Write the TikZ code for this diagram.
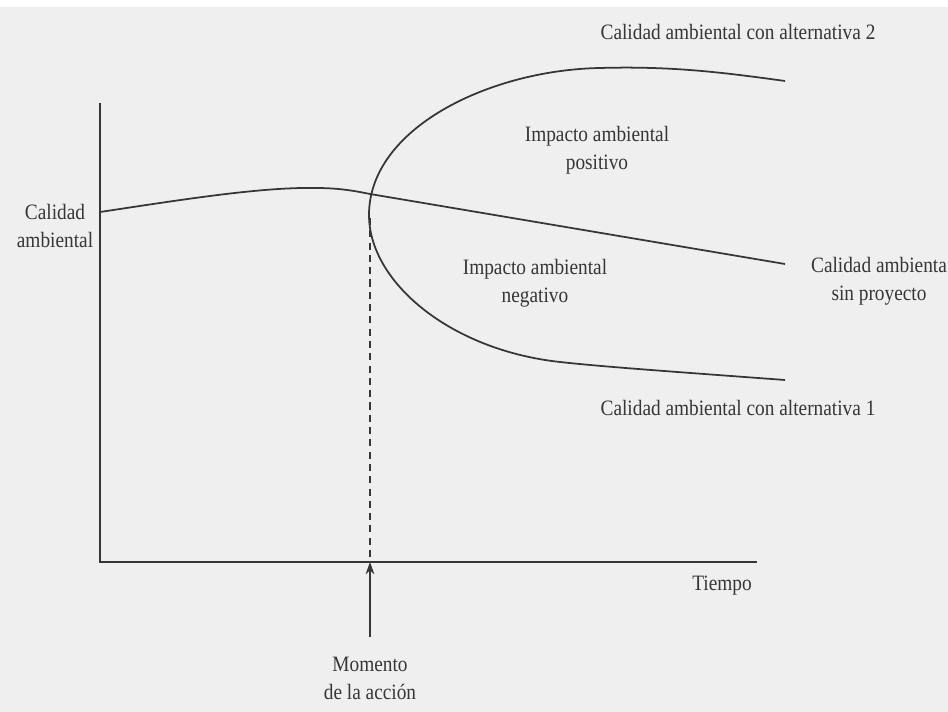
\documentclass[tikz,border=0pt]{standalone}
\usepackage{fontspec}
\setmainfont{Liberation Serif}[FakeStretch=0.88]
\usepackage{xcolor}
\usetikzlibrary{arrows.meta}
\definecolor{xink}{HTML}{363636}
\definecolor{xpaper}{HTML}{EFEFEF}

\begin{document}
\begin{tikzpicture}[
    x=0.02cm, y=-0.02cm,
    >={Stealth[length=7pt,width=5pt]},
    axis/.style={line width=1.6pt, color=xink},
    curve/.style={line width=1pt, color=xink},
    guide/.style={line width=0.8pt, color=xink, dash pattern=on 4pt off 3pt},
    label/.style={font=\fontsize{12.5}{16}\selectfont, color=xink, align=center, inner sep=0pt},
]

% --- Background ---
\fill[xpaper] (0,0) rectangle (948,712);
\fill[white] (0,0) rectangle (948,7);
\useasboundingbox (0,0) rectangle (948,712);

% --- Axes ---
\coordinate (origin) at (100,562);
\coordinate (ytop) at (100,103);
\coordinate (xend) at (757,562);
\draw[axis] (ytop) -- (origin) -- (xend);

% --- Curves ---
\coordinate (branch) at (369,215);
\coordinate (dashtop) at (370,218);
\draw[curve] (100,212) .. controls (180,200) and (260,187) .. (315,188)
    .. controls (340,188) and (355,191) .. (370,194) -- (785,264);
\draw[curve] (785,81) .. controls (720,72) and (670,66) .. (600,68)
    .. controls (490,70) and (369,128) .. (branch)
    .. controls (369,282) and (450,350) .. (560,362)
    .. controls (600,366.4) and (650,370) .. (785,380);

% --- Moment of action ---
\draw[guide] (dashtop) -- (dashtop |- origin);

% --- Labels ---
\node[label] (alt2) at (738,32) {Calidad ambiental con alternativa 2};
\node[label] (pos) at (597,150) {Impacto ambiental\\positivo};
\node[label] (ylab) at (55,226) {Calidad\\ambiental};
\node[label] (neg) at (535,283) {Impacto ambiental\\negativo};
\node[label] (sinp) at (879,281) {Calidad ambienta\\sin proyecto};
\node[label] (alt1) at (738,408) {Calidad ambiental con alternativa 1};
\node[label] (tiempo) at (722,586) {Tiempo};
\node[label] (momento) at (370,678) {Momento\\de la acción};

% --- Arrow to axis ---
\draw[->, line width=0.6pt, color=xink] ([yshift=11pt]momento.north) -- (momento.north |- origin);

\end{tikzpicture}
\end{document}
